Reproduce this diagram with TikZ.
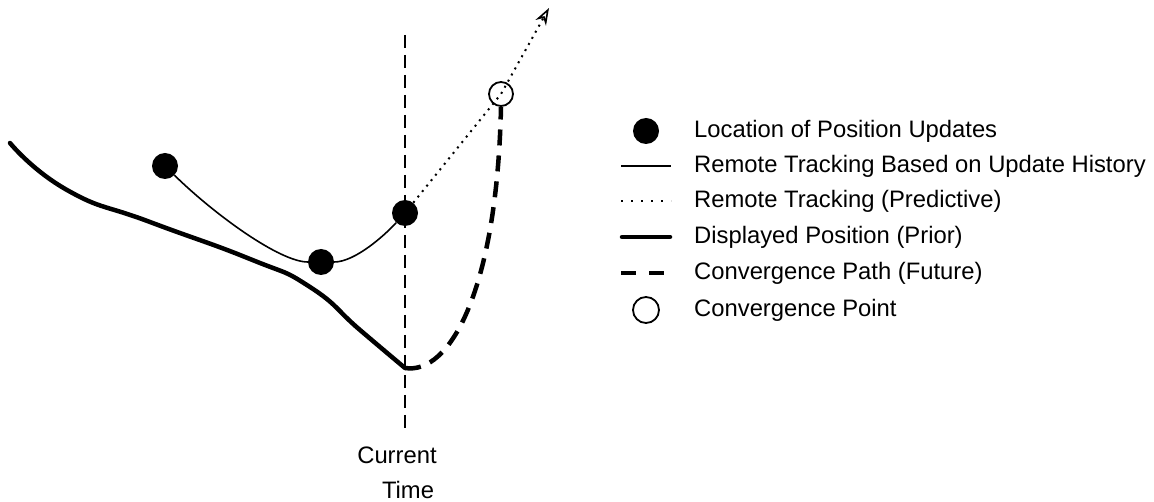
\documentclass[tikz,border=0pt]{standalone}
\usepackage{fontspec}
\setmainfont{Liberation Sans}
\usetikzlibrary{arrows.meta,positioning}

\tikzset{
  update/.style={circle,fill=black,inner sep=0pt,minimum size=26pt},
  convpt/.style={circle,draw=black,line width=1.8pt,inner sep=0pt,minimum size=24pt},
  history/.style={line width=1.6pt},
  predict/.style={line width=2pt,dash pattern=on 2pt off 5pt},
  prior/.style={line width=4.5pt,line cap=round},
  future/.style={line width=4.5pt,dash pattern=on 16pt off 10pt},
  nowline/.style={line width=2pt,dash pattern=on 13pt off 7pt},
  legtext/.style={anchor=west,inner sep=0pt,font=\fontsize{23.8}{28}\selectfont},
  timetext/.style={inner sep=0pt,font=\fontsize{23.8}{28}\selectfont},
}

\begin{document}
\begin{tikzpicture}[x=1pt,y=-1pt]
  \useasboundingbox (0,0) rectangle (1154,502);

  % current time
  \coordinate (top) at (405,35);
  \coordinate (bot) at (405,433);
  \draw[nowline] (top) -- (bot);
  \node[timetext] (cur) at (397,455) {Current};
  \node[timetext] (time) at (408,490) {Time};

  % displayed position
  \coordinate (start) at (10,143);
  \coordinate (now) at (405,368);
  \draw[prior] plot[smooth,tension=0.9] coordinates {(start) (67,190) (150,222) (250,259) (310,287) (360,330) (now)};

  % position updates
  \node[update] (d1) at (165,166) {};
  \node[update] (d2) at (321,262) {};
  \node[update] (d3) at (405,213) {};
  \node[convpt] (conv) at (501,94) {};
  \coordinate (tip) at (549,8);

  \draw[history] (d1) .. controls (215,215) and (280,262) .. (d2);
  \draw[history] (d2) .. controls (355,262) and (385,235) .. (d3);
  \draw[predict,-{Stealth[open,length=17pt,width=12pt,line width=1.6pt]}] (d3) -- (conv.center) -- (tip);
  \draw[future] (now) .. controls (450,375) and (497,290) .. (conv.south);

  % legend
  \node[update] (k1) at (646,131) {};
  \node[legtext] (t1) at (694,131) {Location of Position Updates};
  \draw[history] (621,166) -- (671,166);
  \node[legtext] (t2) at (694,166) {Remote Tracking Based on Update History};
  \draw[predict,dash pattern=on 2pt off 8pt] (621,201) -- (671,201);
  \node[legtext] (t3) at (694,201) {Remote Tracking (Predictive)};
  \draw[prior] (622,237) -- (670,237);
  \node[legtext] (t4) at (694,237) {Displayed Position (Prior)};
  \draw[future,dash pattern=on 15pt off 13pt] (621,273) -- (671,273);
  \node[legtext] (t5) at (694,273) {Convergence Path (Future)};
  \node[convpt,minimum size=26pt] (k6) at (646,310) {};
  \node[legtext] (t6) at (694,310) {Convergence Point};
\end{tikzpicture}
\end{document}
